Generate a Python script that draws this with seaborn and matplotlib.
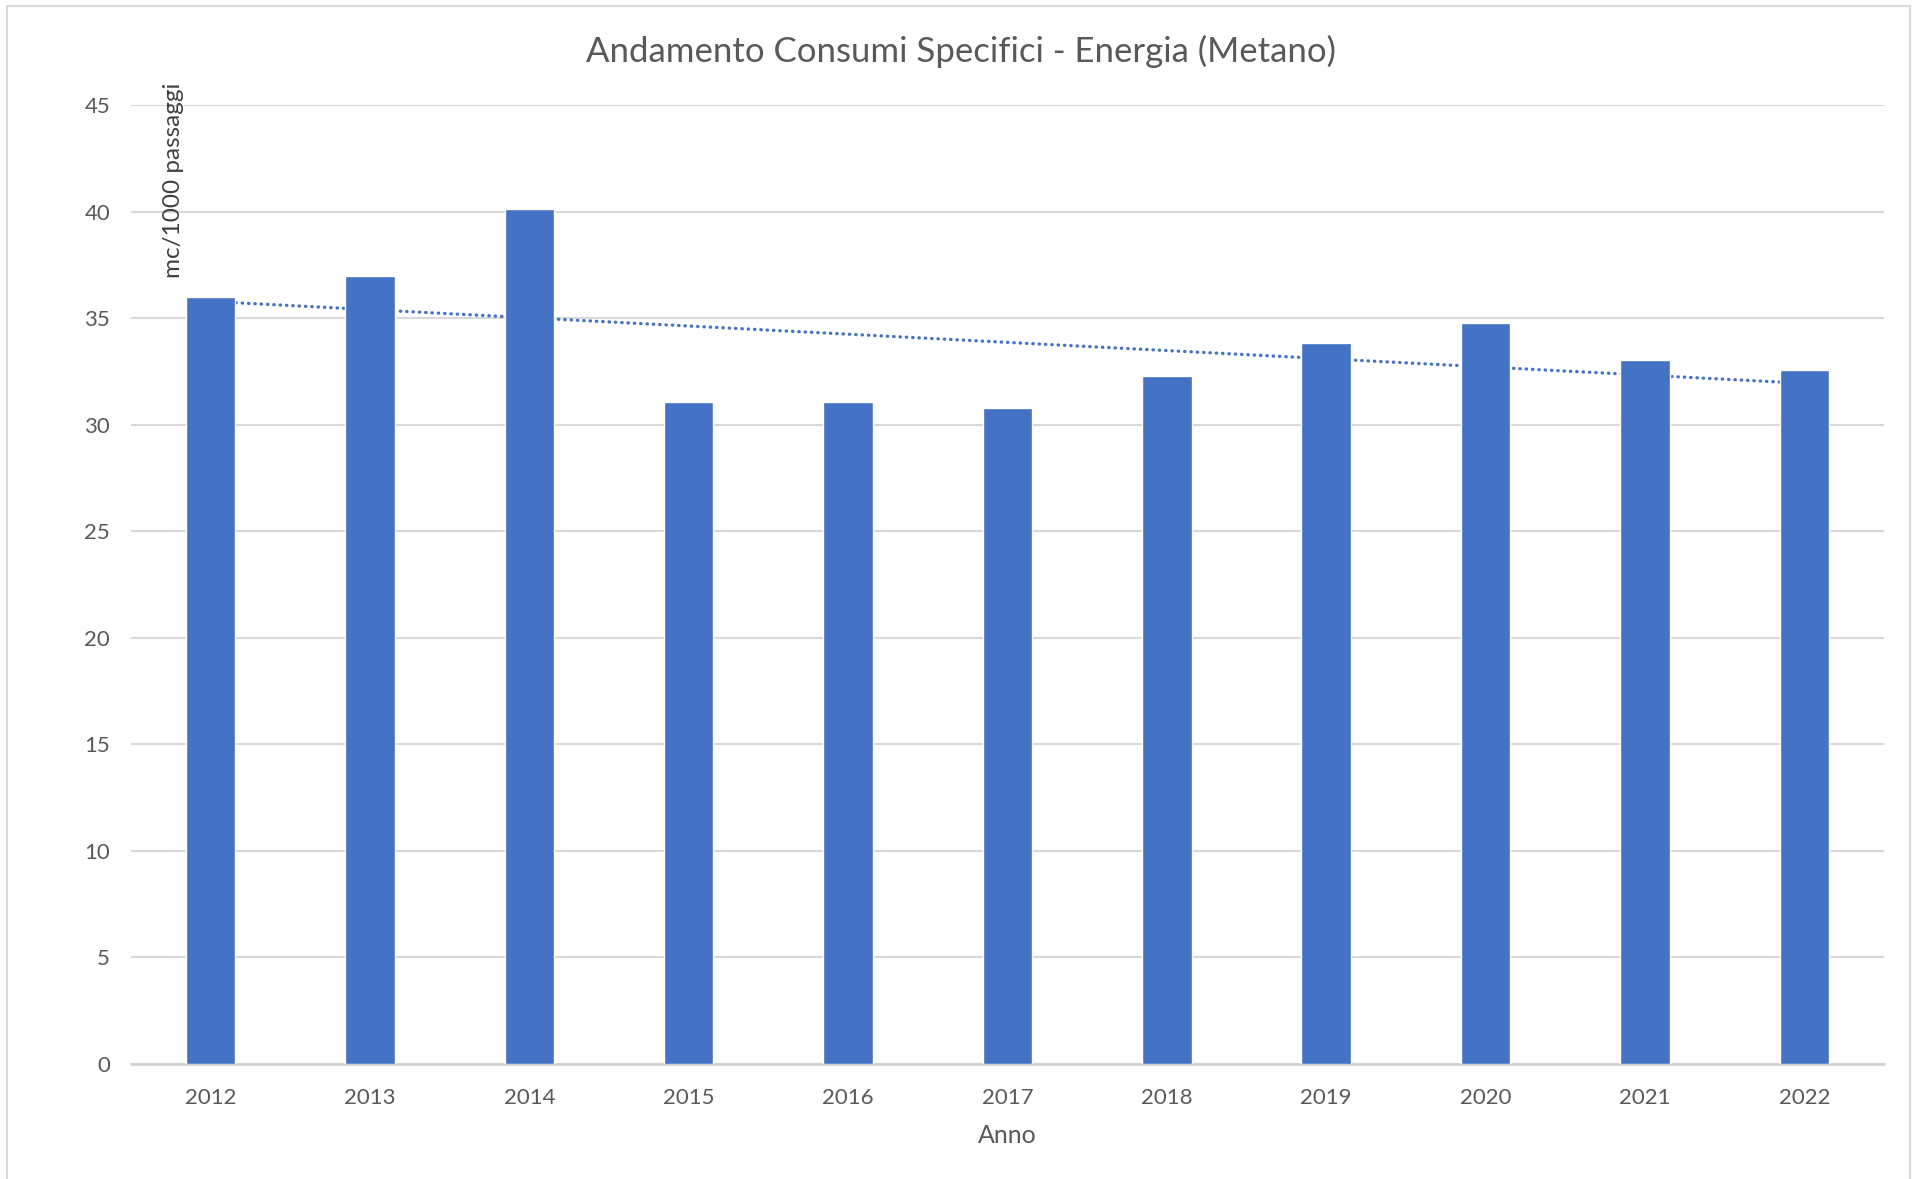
import numpy as np
import pandas as pd
import matplotlib
matplotlib.use("Agg")
import matplotlib.pyplot as plt
import seaborn as sns
from matplotlib.patches import Rectangle

# Data
anni = ["2012", "2013", "2014", "2015", "2016", "2017", "2018", "2019", "2020", "2021", "2022"]
consumi = [36.0, 37.0, 40.1, 31.05, 31.05, 30.8, 32.3, 33.85, 34.75, 33.05, 32.55]
y_ticks = [0, 5, 10, 15, 20, 25, 30, 35, 40, 45]

df = pd.DataFrame({"Anno": anni, "Consumo": consumi})

sns.set_theme(style="white")
plt.rcParams["font.family"] = ["Lato", "DejaVu Sans"]

blue = "#4472C4"
grey_txt = "#595959"

fig = plt.figure(figsize=(19.14, 11.79), dpi=100)
ax = fig.add_axes([0.0684, 0.0975, 0.9159, 0.8134])

# Bars
sns.barplot(data=df, x="Anno", y="Consumo", color=blue, width=0.31,
            saturation=1, ax=ax, zorder=3)

# Linear trendline (dotted)
xs = np.arange(len(anni))
slope, intercept = np.polyfit(xs, consumi, 1)
ax.plot(xs, slope * xs + intercept, color=blue, lw=2.4,
        linestyle=(0, (0.1, 1.8)), dash_capstyle="round", zorder=2)

ax.set_xlim(-0.5, len(anni) - 0.5)
ax.set_ylim(0, 45)
ax.set_yticks(y_ticks)
ax.set_axisbelow(True)
ax.yaxis.grid(True, color="#d9d9d9", lw=1.5)
ax.xaxis.grid(False)
for s in ["top", "right", "left"]:
    ax.spines[s].set_visible(False)
ax.spines["bottom"].set_color("#d0d0d0")
ax.spines["bottom"].set_linewidth(1.8)

ax.tick_params(axis="both", length=0, labelsize=16, labelcolor=grey_txt)
ax.tick_params(axis="x", pad=17)
ax.tick_params(axis="y", pad=15)

ax.set_xlabel("Anno", fontsize=18, color=grey_txt, labelpad=12)
ax.set_ylabel("mc/1000 passaggi", fontsize=17.5, color="#404040")
ax.yaxis.set_label_coords(0.03, 0.922)

fig.suptitle("Andamento Consumi Specifici - Energia (Metano)", fontsize=25,
             color=grey_txt, x=0.502, y=0.9565, va="center")

# Chart border
fig.patches.append(Rectangle((7 / 1914, -0.01), 1903 / 1914, 1 - 6 / 1179 + 0.01,
                             transform=fig.transFigure, fill=False,
                             edgecolor="#d9d9d9", lw=1.5))

fig.savefig("out.png", dpi=100, facecolor="white")
